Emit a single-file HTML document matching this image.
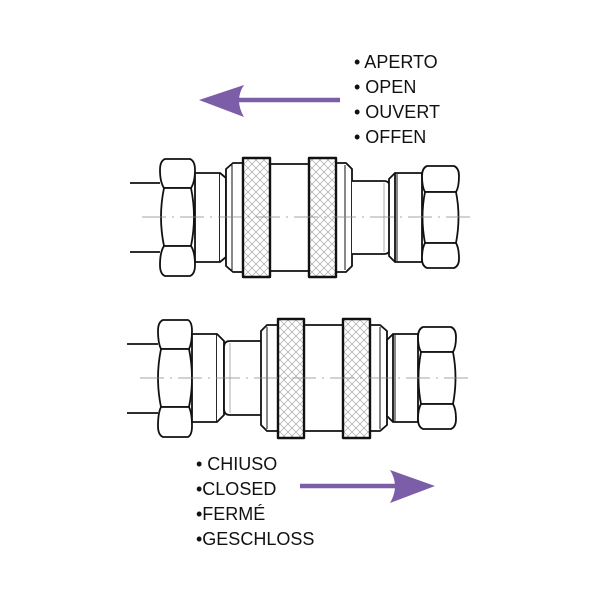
<!DOCTYPE html>
<html><head><meta charset="utf-8"><style>
html,body{margin:0;padding:0;background:#fff;}
svg{display:block;}
text{font-family:"Liberation Sans","DejaVu Sans",sans-serif;font-size:18px;fill:#111;}
</style></head><body>
<svg width="600" height="600" viewBox="0 0 600 600" xmlns="http://www.w3.org/2000/svg">
<defs>
<pattern id="k" width="8" height="8" patternUnits="userSpaceOnUse">
<rect width="8" height="8" fill="#fff"/>
<path d="M0 0L8 8M8 0L0 8" stroke="#aaa" stroke-width="0.7"/>
</pattern>
</defs>
<g fill="#fff" stroke="#111" stroke-width="1.8" stroke-linejoin="round">
<!-- TOP -->
<line x1="130" y1="183" x2="160" y2="183"/><line x1="130" y1="252" x2="160" y2="252"/>
<path d="M165 159H190Q195 161 195 170Q195 182 191 188H164Q160 182 160 170Q160 161 165 159Z"/>
<path d="M164 188H191Q197 217 191 246H164Q158 217 164 188Z"/>
<path d="M164 246H191Q195 252 195 265Q195 274 190 276H165Q160 274 160 265Q160 252 164 246Z"/>
<rect x="195" y="173" width="25" height="89"/>
<path d="M220 173L226 178V257L220 262"/>
<path d="M233 163H243V272H233L226 266V169Z"/><line x1="232" y1="165" x2="232" y2="270" stroke-width="1"/>
<rect x="270" y="164" width="39" height="107"/>
<path d="M336 163H346L352 169V266L346 272H336Z"/><line x1="345" y1="165" x2="345" y2="270" stroke-width="1"/>
<rect x="243" y="158" width="27" height="119" fill="url(#k)" stroke-width="2.4"/>
<rect x="309" y="158" width="27" height="119" fill="url(#k)" stroke-width="2.4"/>
<path d="M352 181H384Q390 181 390 188V248Q390 254 384 254H352"/><line x1="384" y1="183" x2="384" y2="252" stroke="#999" stroke-width="0.8"/>
<path d="M395 173L389 179V256L395 262"/>
<rect x="395" y="173" width="27" height="89"/><line x1="397" y1="174" x2="397" y2="261" stroke-width="1"/>
<path d="M427 166H454Q459 168 459 176Q459 187 456 192H425Q422 187 422 176Q422 168 427 166Z"/>
<path d="M425 192H456Q461 217 456 243H425Q420 217 425 192Z"/>
<path d="M425 243H456Q459 248 459 259Q459 266 454 268H427Q422 266 422 259Q422 248 425 243Z"/>
<!-- BOTTOM -->
<line x1="127" y1="344" x2="158" y2="344"/><line x1="127" y1="413" x2="158" y2="413"/>
<path d="M163 320H188Q192 322 192 331Q192 343 189 349H161Q158 343 158 331Q158 322 163 320Z"/>
<path d="M161 349H189Q195 378 189 407H161Q155 378 161 349Z"/>
<path d="M161 407H189Q192 413 192 426Q192 435 188 437H163Q158 435 158 426Q158 413 161 407Z"/>
<rect x="192" y="334" width="25" height="88"/>
<path d="M217 334L224 341V415L217 422"/>
<path d="M262 341H230Q224 341 224 347V409Q224 415 230 415H262"/><line x1="230" y1="343" x2="230" y2="413" stroke="#999" stroke-width="0.8"/>
<path d="M267 325H278V431H267L261 425V331Z"/><line x1="267" y1="327" x2="267" y2="429" stroke-width="1"/>
<rect x="304" y="325" width="39" height="106"/>
<path d="M370 325H380L387 331V425L380 431H370Z"/><line x1="380" y1="327" x2="380" y2="429" stroke-width="1"/>
<rect x="278" y="319" width="26" height="119" fill="url(#k)" stroke-width="2.4"/>
<rect x="343" y="319" width="27" height="119" fill="url(#k)" stroke-width="2.4"/>
<path d="M393 334L387 340V416L393 422"/>
<rect x="393" y="334" width="25" height="88"/><line x1="395" y1="335" x2="395" y2="421" stroke-width="1"/>
<path d="M423 327H451Q456 329 456 337Q456 347 453 352H421Q418 347 418 337Q418 329 423 327Z"/>
<path d="M421 352H453Q458 378 453 404H421Q416 378 421 352Z"/>
<path d="M421 404H453Q456 409 456 419Q456 427 451 429H423Q418 427 418 419Q418 409 421 404Z"/>
</g>
<line x1="142" y1="217" x2="472" y2="217" stroke="#888" stroke-width="0.8" stroke-dasharray="24 6 2 6"/>
<line x1="140" y1="378" x2="468" y2="378" stroke="#888" stroke-width="0.8" stroke-dasharray="24 6 2 6"/>
<!-- arrows -->
<line x1="236" y1="100" x2="340" y2="100" stroke="#7b5ea7" stroke-width="4.5"/>
<path d="M199 100L244 85Q234 100 244 117Z" fill="#7b5ea7"/>
<line x1="300" y1="486" x2="398" y2="486" stroke="#7b5ea7" stroke-width="4.5"/>
<path d="M435 486L390 470Q400 486 390 503Z" fill="#7b5ea7"/>
<!-- text -->
<text x="354" y="68">• APERTO</text>
<text x="354" y="93">• OPEN</text>
<text x="354" y="118">• OUVERT</text>
<text x="354" y="143">• OFFEN</text>
<text x="196" y="470">• CHIUSO</text>
<text x="196" y="495">•CLOSED</text>
<text x="196" y="520">•FERMÉ</text>
<text x="196" y="545">•GESCHLOSS</text>
</svg>
</body></html>
